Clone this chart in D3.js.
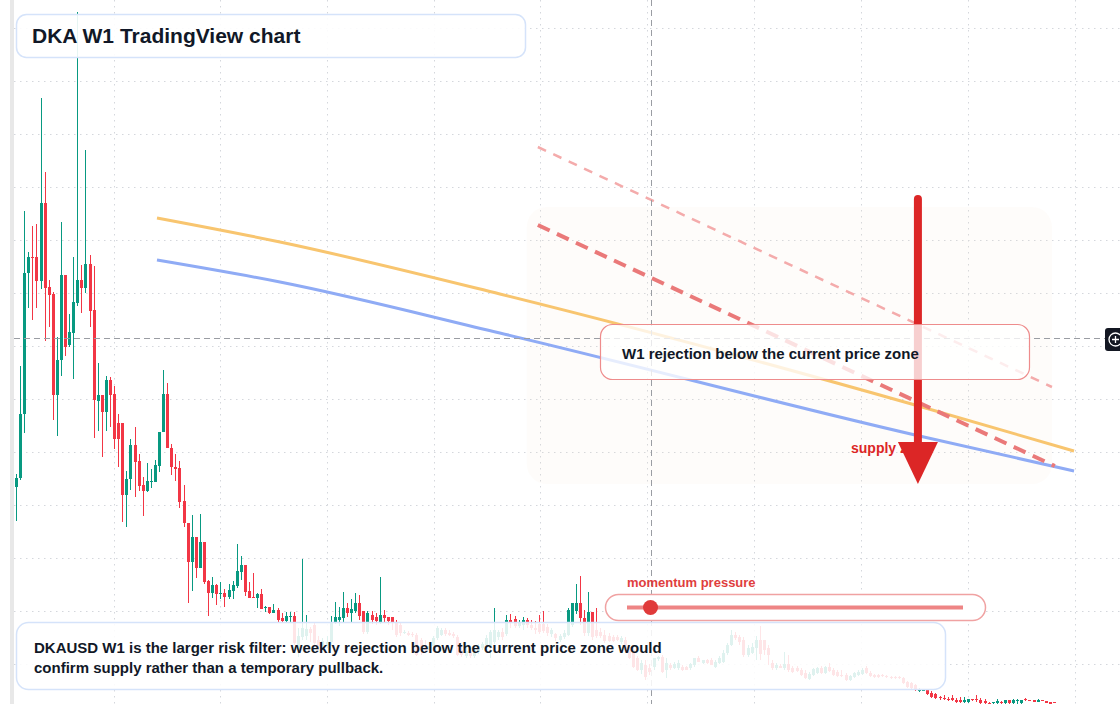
<!DOCTYPE html>
<html>
<head>
<meta charset="utf-8">
<script src="https://cdn.jsdelivr.net/npm/d3@7/dist/d3.min.js"></script>
<style>
  html, body { margin: 0; padding: 0; background: #fff; }
  svg { display: block; font-family: "Liberation Sans", Arial, Helvetica, sans-serif; }
</style>
</head>
<body>
<div id="chart"></div>
<script>

// DKAUSD weekly candles, prices in 1e-4 USD, oldest first
var opens = [225,234,298,439,455,455,431,509,425,418,317,352,437,367,379,409,432,424,448,402,
  311,317,300,332,318,289,289,217,233,267,251,227,221,230,230,246,280,318,264,245,
  244,211,189,150,175,144,170,131,119,127,118,119,115,121,126,140,147,121,115,114,
  118,104,105,99,102,94,91,95,96,
  62,75,76,83,87,72,66,67,70,89,92,94,104,99,101,109,101,80,97,95,90,97,95,95,
  90,87,79,79,78,77,72,67,62,66,74,77,82,79,78,75,62,56,61,56,60,64,67,65,70,75,80,
  78,92,93,86,87,92,87,84,88,88,85,78,78,72,75,
  77,87,101,109,94,79,100,82,80,77,76,75,75,70,72,65,62,54,42,47,44,45,53,55,42,47,44,44,
  45,45,44,47,54,49,52,52,45,49,50,59,67,77,75,72,57,59,64,72,72,64,49,44,46,44,48,44,44,
  42,39,33,37,39,44,39,45,42,40,37,37,32,35,37,38,44,39,37,37,37,36,35,35,35,34,30,29,27,
  21,21,22,19,18,15,14,13,14,12,12,10,10,13,13,12,11,9,9,9,10,9,12,9,11,9,13,12,12,10,12,11,10,10];

var highs = [238,346,501,460,486,488,614,540,432,420,375,490,437,398,455,700,447,562,457,446,
  349,317,336,335,326,298,289,241,273,285,258,235,249,243,252,280,342,329,268,258,
  251,227,189,197,175,198,170,132,135,128,130,123,128,131,168,156,147,130,139,119,
  123,106,105,108,104,99,100,100,100,
  84,153,97,85,90,76,74,76,96,110,105,120,109,113,119,117,101,101,101,99,135,102,95,95,
  92,89,82,81,80,79,74,72,69,76,86,84,84,82,80,77,67,67,64,64,68,70,77,82,104,82,84,
  97,98,96,92,95,94,92,91,97,101,88,84,79,78,82,
  104,109,128,136,102,120,100,104,84,82,79,77,77,76,75,67,64,56,52,52,48,52,56,57,54,49,50,52,
  47,46,49,54,56,52,53,54,52,56,62,69,82,80,77,75,67,69,76,86,72,67,52,49,48,60,57,46,46,
  44,42,40,44,45,46,46,49,44,42,42,39,37,40,42,44,46,41,38,38,38,37,36,36,36,35,31,30,28,
  24,23,23,21,19,16,17,15,17,14,15,15,13,13,17,14,13,10,10,13,11,12,12,13,13,12,14,12,12,13,12,11,10,10];

var lows = [191,232,279,404,392,404,423,371,385,292,276,336,356,365,333,406,399,419,385,274,
  281,255,281,285,263,245,190,185,222,215,221,196,220,224,230,240,280,264,237,231,
  204,185,109,121,134,144,128,96,114,107,113,105,113,113,124,132,116,114,114,104,
  103,100,98,99,90,90,90,90,67,
  55,72,72,70,67,62,62,64,67,88,86,89,95,90,99,92,78,78,88,87,88,90,87,82,
  75,76,78,76,75,56,57,59,60,64,72,76,76,76,74,56,55,54,54,54,58,62,64,54,68,72,72,
  76,84,84,84,82,84,82,78,78,79,76,75,71,70,73,
  76,85,98,87,76,76,72,74,74,69,70,70,71,68,60,53,44,41,38,32,37,42,51,39,34,42,43,42,
  41,42,42,45,50,48,48,47,44,48,49,57,66,72,67,55,55,58,52,52,57,47,42,42,44,42,40,39,40,
  36,33,32,36,38,38,38,40,36,35,35,31,31,34,36,37,38,35,34,34,35,34,33,33,33,28,24,23,21,
  20,21,17,14,13,12,12,11,11,9,9,9,9,11,10,8,8,8,8,8,8,8,8,8,8,8,11,11,10,10,11,9,8,9];

var closes = [234,298,439,455,454,431,509,424,417,317,352,437,365,380,410,432,424,448,401,312,
  317,300,332,317,273,273,217,233,267,250,226,221,231,231,247,280,318,264,245,243,
  210,189,150,175,144,170,130,119,127,118,119,115,122,127,141,147,120,114,114,118,
  103,105,99,102,92,91,96,96,69,
  76,84,83,79,69,66,71,70,89,95,95,104,99,103,109,96,80,99,92,91,97,94,91,90,
  77,79,80,77,77,57,62,62,66,74,84,82,78,77,76,57,57,61,56,62,66,68,74,80,82,80,75,
  92,89,86,90,92,87,84,82,80,81,79,82,74,76,79,
  102,109,109,94,79,100,75,76,76,71,71,71,72,74,62,54,45,42,49,35,40,54,55,40,49,44,48,49,
  42,42,48,54,50,52,49,47,50,54,59,67,77,74,70,57,64,65,72,58,62,57,44,47,44,48,42,40,41,
  37,34,38,43,44,39,45,41,37,36,36,32,36,39,40,42,39,36,35,35,36,35,34,34,34,29,25,24,22,
  23,23,18,15,14,14,13,12,12,10,10,12,13,12,12,9,9,8,10,11,9,12,9,12,12,12,12,11,10,12,11,9,8,9];

// grid positions (bar index / price)
var timeTicks = [23.9, 49.9, 76.1, 102.2, 128.2, 154.4, 180.6, 206.8, 233.0, 259.1];
var priceTicks = [48, 101, 154, 207, 260, 313, 366, 419, 472, 525, 578, 631, 684];

// overlay lines: [bar index, price]
var fastAvg = [[34.5, 494], [64.6, 470], [118.4, 418], [220.0, 307], [258.9, 261]];
var slowAvg = [[34.5, 452], [64.6, 430], [118.4, 379], [220.0, 277], [258.9, 241]];
var rejectLine = [[127.7, 487], [254.2, 246]];
var upperLine = [[127.7, 565], [253.5, 325]];

// supply zone box: bar range and price range
var zoneBars = [125.0, 253.5];
var zonePrices = [505, 228];

// arrow: bar, from price, to price
var arrowBar = 220.7;
var arrowPrices = [517, 228];

// crosshair: bar, price
var crossBar = 155.3;
var crossPrice = 374;

var momentumValue = 0.07;

var titleText = "DKA W1 TradingView chart";
var calloutText = "W1 rejection below the current price zone";
var noteLines = ["DKAUSD W1 is the larger risk filter: weekly rejection below the current price zone would",
                 "confirm supply rather than a temporary pullback."];

var width = 1120, height = 704;
var upColor = "#089981", downColor = "#f23645";

var svg = d3.select("#chart").append("svg")
    .attr("width", width)
    .attr("height", height);

svg.append("rect").attr("width", width).attr("height", height).attr("fill", "#fff");

// left pane divider
svg.append("rect")
    .attr("x", 10).attr("y", 0)
    .attr("width", 4).attr("height", height)
    .attr("fill", "#e8e8e8");

var candles = d3.range(opens.length).map(function(i) {
    return {i: i, o: opens[i], h: highs[i], l: lows[i], c: closes[i]};
});

var x = d3.scaleLinear()
    .domain([0, candles.length - 1])
    .range([16, 1054]);

var y = d3.scaleLinear()
    .domain([0, 712])
    .range([712, 0]);

svg.append("clipPath").attr("id", "plot")
    .append("rect").attr("x", 14).attr("y", 0).attr("width", width - 14).attr("height", height);

var plot = svg.append("g").attr("clip-path", "url(#plot)");

// dotted grid
plot.append("g").selectAll("line")
    .data(timeTicks)
    .enter().append("line")
    .attr("x1", function(d) { return Math.round(x(d)) + 0.5; })
    .attr("x2", function(d) { return Math.round(x(d)) + 0.5; })
    .attr("y1", 0).attr("y2", height)
    .attr("stroke", "#d4d7dc")
    .attr("stroke-dasharray", "1.5,4.5");

plot.append("g").selectAll("line")
    .data(priceTicks)
    .enter().append("line")
    .attr("y1", function(d) { return Math.round(y(d)) + 0.5; })
    .attr("y2", function(d) { return Math.round(y(d)) + 0.5; })
    .attr("x1", 14).attr("x2", width)
    .attr("stroke", "#d4d7dc")
    .attr("stroke-dasharray", "1.5,4.5");

// candles
var candle = plot.append("g").selectAll("g")
    .data(candles)
    .enter().append("g")
    .attr("fill", function(d) { return d.c >= d.o ? upColor : downColor; })
    .attr("stroke", function(d) { return d.c >= d.o ? upColor : downColor; });

candle.append("line")
    .attr("x1", function(d) { return Math.round(x(d.i)) + 0.5; })
    .attr("x2", function(d) { return Math.round(x(d.i)) + 0.5; })
    .attr("y1", function(d) { return y(d.h); })
    .attr("y2", function(d) { return y(d.l); })
    .attr("stroke-width", 1);

candle.append("rect")
    .attr("stroke", "none")
    .attr("x", function(d) { return Math.round(x(d.i)) - 1; })
    .attr("width", 3)
    .attr("y", function(d) { return Math.round(y(Math.max(d.o, d.c))); })
    .attr("height", function(d) {
        return Math.max(1, Math.round(y(Math.min(d.o, d.c))) - Math.round(y(Math.max(d.o, d.c))));
    });

// supply zone shading
plot.append("rect")
    .attr("x", x(zoneBars[0]))
    .attr("y", y(zonePrices[0]))
    .attr("width", x(zoneBars[1]) - x(zoneBars[0]))
    .attr("height", y(zonePrices[1]) - y(zonePrices[0]))
    .attr("rx", 20)
    .attr("fill", "#f7e2cf")
    .attr("fill-opacity", 0.11);

var line = d3.line()
    .x(function(d) { return x(d[0]); })
    .y(function(d) { return y(d[1]); })
    .curve(d3.curveMonotoneX);

plot.append("path")
    .attr("d", line(fastAvg))
    .attr("fill", "none")
    .attr("stroke", "#f8c56f")
    .attr("stroke-width", 3);

plot.append("path")
    .attr("d", line(slowAvg))
    .attr("fill", "none")
    .attr("stroke", "#8fabf5")
    .attr("stroke-width", 3);

plot.append("path")
    .attr("d", d3.line().x(function(d) { return x(d[0]); }).y(function(d) { return y(d[1]); })(upperLine))
    .attr("fill", "none")
    .attr("stroke", "#f4abab")
    .attr("stroke-width", 2.5)
    .attr("stroke-dasharray", "9,8");

plot.append("path")
    .attr("d", d3.line().x(function(d) { return x(d[0]); }).y(function(d) { return y(d[1]); })(rejectLine))
    .attr("fill", "none")
    .attr("stroke", "#ea7979")
    .attr("stroke-width", 4)
    .attr("stroke-dasharray", "13,8");

// crosshair
var cx = Math.round(x(crossBar)) + 0.5,
    cy = Math.round(y(crossPrice)) + 0.5;

plot.append("line")
    .attr("x1", cx).attr("x2", cx)
    .attr("y1", 0).attr("y2", height)
    .attr("stroke", "#9a9da3")
    .attr("stroke-dasharray", "6,4");

plot.append("line")
    .attr("x1", 14).attr("x2", 1105)
    .attr("y1", cy).attr("y2", cy)
    .attr("stroke", "#9a9da3")
    .attr("stroke-dasharray", "6,4");

// supply zone label + arrow
svg.append("text")
    .attr("x", 851).attr("y", 453)
    .attr("fill", "#dc2626")
    .style("font-size", "14px")
    .style("font-weight", "bold")
    .text("supply zone");

var ax = x(arrowBar),
    aTop = y(arrowPrices[0]),
    aTip = y(arrowPrices[1]);

svg.append("line")
    .attr("x1", ax).attr("x2", ax)
    .attr("y1", aTop + 4).attr("y2", aTip - 38)
    .attr("stroke", "#dc2626")
    .attr("stroke-width", 8)
    .attr("stroke-linecap", "round");

svg.append("path")
    .attr("d", "M" + (ax - 20) + "," + (aTip - 42) + "L" + (ax + 20) + "," + (aTip - 42) + "L" + ax + "," + aTip + "Z")
    .attr("fill", "#dc2626");

// callout box
svg.append("rect")
    .attr("x", 600.5).attr("y", 324.5)
    .attr("width", 429).attr("height", 55)
    .attr("rx", 12)
    .attr("fill", "#fff")
    .attr("fill-opacity", 0.78)
    .attr("stroke", "#ee8c8c")
    .attr("stroke-width", 1.2);

svg.append("text")
    .attr("x", 622).attr("y", 359)
    .attr("fill", "#111827")
    .style("font-size", "15px")
    .style("font-weight", "bold")
    .text(calloutText);

// title box
svg.append("rect")
    .attr("x", 16.5).attr("y", 14.5)
    .attr("width", 509).attr("height", 43)
    .attr("rx", 10)
    .attr("fill", "#fff")
    .attr("fill-opacity", 0.9)
    .attr("stroke", "#d5e3fa")
    .attr("stroke-width", 1.5);

svg.append("text")
    .attr("x", 32).attr("y", 43)
    .attr("fill", "#111827")
    .style("font-size", "21px")
    .style("font-weight", "bold")
    .text(titleText);

// momentum pressure pill
var mScale = d3.scaleLinear().domain([0, 1]).range([627, 963]);

svg.append("text")
    .attr("x", 627).attr("y", 587)
    .attr("fill", "#e03e3e")
    .style("font-size", "13px")
    .style("font-weight", "bold")
    .text("momentum pressure");

svg.append("rect")
    .attr("x", 605.5).attr("y", 594.5)
    .attr("width", 380).attr("height", 26)
    .attr("rx", 13)
    .attr("fill", "#fff")
    .attr("stroke", "#f0a2a2")
    .attr("stroke-width", 1.5);

svg.append("line")
    .attr("x1", mScale(0)).attr("x2", mScale(1))
    .attr("y1", 607.5).attr("y2", 607.5)
    .attr("stroke", "#ee8585")
    .attr("stroke-width", 4);

svg.append("circle")
    .attr("cx", mScale(momentumValue)).attr("cy", 607.5)
    .attr("r", 7.5)
    .attr("fill", "#e03a3a");

// bottom note box
svg.append("rect")
    .attr("x", 16.5).attr("y", 622.5)
    .attr("width", 929).attr("height", 67)
    .attr("rx", 12)
    .attr("fill", "#fff")
    .attr("fill-opacity", 0.87)
    .attr("stroke", "#d5e3fa")
    .attr("stroke-width", 1.5);

svg.append("g").selectAll("text")
    .data(noteLines)
    .enter().append("text")
    .attr("x", 34)
    .attr("y", function(d, i) { return 653 + i * 20; })
    .attr("fill", "#111827")
    .style("font-size", "15px")
    .style("font-weight", "bold")
    .text(function(d) { return d; });

// crosshair price label stub at right edge
svg.append("rect")
    .attr("x", 1105).attr("y", 328)
    .attr("width", 20).attr("height", 23)
    .attr("rx", 3)
    .attr("fill", "#131722");

svg.append("circle")
    .attr("cx", 1115.5).attr("cy", 339.5)
    .attr("r", 6.5)
    .attr("fill", "none")
    .attr("stroke", "#fff")
    .attr("stroke-width", 1.3);

svg.append("path")
    .attr("d", "M1112,339.5H1119M1115.5,336V343")
    .attr("stroke", "#fff")
    .attr("stroke-width", 1.3);

</script>
</body>
</html>
